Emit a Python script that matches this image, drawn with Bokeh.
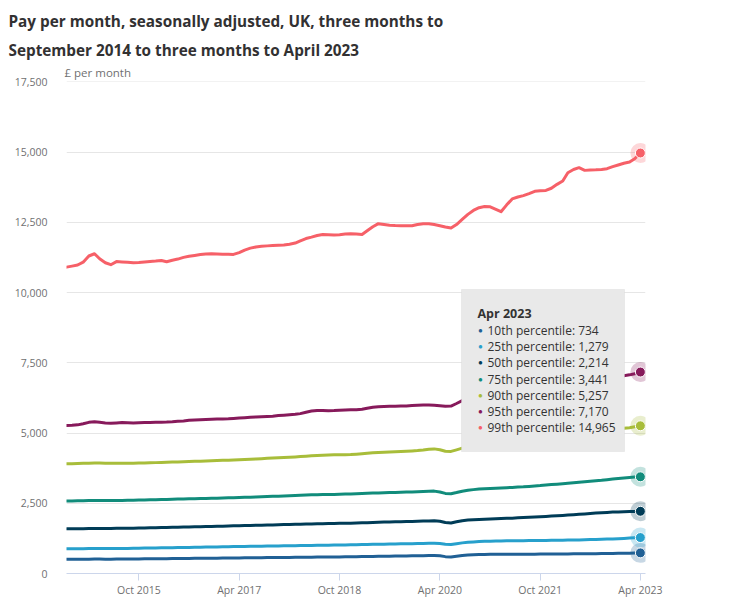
import pandas as pd
from bokeh.plotting import figure
from bokeh.models import (Range1d, FixedTicker, DatetimeTickFormatter, NumeralTickFormatter,
                          Label, BoxAnnotation, Title)
from bokeh.embed import file_html
from bokeh.resources import INLINE

# ---------------- data ----------------
start_month = "2014-09-01"
n_months = 104
months = pd.date_range(start_month, periods=n_months, freq="MS")

title_lines = ["Pay per month, seasonally adjusted, UK, three months to",
               "September 2014 to three months to April 2023"]
unit_label = "£ per month"

series_names = ["10th percentile", "25th percentile", "50th percentile", "75th percentile",
                "90th percentile", "95th percentile", "99th percentile"]
series_colors = ["#206095", "#27a0cc", "#003c57", "#118c7b", "#a8bd3a", "#871a5b", "#f66068"]

p10 = [505, 506, 507, 508, 510, 512, 512, 511, 511, 512, 513, 515, 517, 519, 521, 523, 525, 527, 529, 531,
       533, 535, 537, 539, 541, 543, 545, 547, 549, 551, 553, 555, 557, 559, 561, 563, 565, 567, 569, 571,
       573, 575, 577, 579, 581, 583, 585, 587, 589, 591, 593, 596, 599, 602, 605, 608, 611, 614, 617, 620,
       623, 626, 629, 632, 636, 640, 644, 632, 600, 590, 615, 640, 655, 665, 673, 679, 681, 683, 684, 685,
       686, 687, 688, 688, 689, 690, 691, 692, 693, 695, 697, 699, 701, 703, 705, 707, 709, 711, 714, 717,
       721, 725, 730, 734]
p25 = [880, 881, 882, 884, 886, 888, 888, 887, 886, 886, 887, 889, 895, 901, 904, 907, 910, 913, 916, 920,
       923, 926, 929, 933, 936, 939, 943, 946, 950, 953, 957, 961, 964, 967, 970, 973, 976, 979, 982, 985,
       988, 991, 994, 997, 1000, 1003, 1006, 1009, 1012, 1015, 1018, 1021, 1025, 1029, 1033, 1037, 1041, 1045, 1049, 1053,
       1056, 1059, 1062, 1066, 1070, 1074, 1077, 1065, 1040, 1031, 1060, 1090, 1110, 1125, 1138, 1148, 1152, 1156, 1159, 1162,
       1165, 1168, 1170, 1172, 1174, 1176, 1178, 1181, 1184, 1187, 1190, 1193, 1196, 1200, 1206, 1212, 1218, 1225, 1232, 1240,
       1250, 1260, 1270, 1279]
p50 = [1590, 1592, 1594, 1597, 1600, 1603, 1604, 1604, 1605, 1606, 1608, 1610, 1614, 1619, 1623, 1627, 1632, 1636, 1640, 1645,
       1649, 1654, 1658, 1663, 1667, 1672, 1676, 1681, 1685, 1690, 1695, 1700, 1705, 1710, 1715, 1720, 1725, 1730, 1735, 1740,
       1745, 1750, 1755, 1760, 1765, 1770, 1775, 1779, 1783, 1786, 1789, 1792, 1797, 1803, 1810, 1817, 1823, 1829, 1834, 1839,
       1844, 1849, 1854, 1859, 1865, 1871, 1876, 1860, 1815, 1795, 1840, 1880, 1900, 1912, 1922, 1930, 1938, 1946, 1954, 1962,
       1970, 1980, 1990, 2000, 2010, 2020, 2032, 2044, 2056, 2068, 2080, 2095, 2108, 2120, 2135, 2150, 2165, 2175, 2185, 2193,
       2200, 2205, 2210, 2214]
p75 = [2580, 2583, 2586, 2590, 2595, 2600, 2600, 2598, 2597, 2598, 2600, 2603, 2607, 2612, 2617, 2622, 2627, 2632, 2637, 2642,
       2647, 2652, 2657, 2662, 2667, 2672, 2677, 2682, 2687, 2692, 2697, 2703, 2710, 2717, 2724, 2731, 2738, 2745, 2752, 2760,
       2768, 2776, 2784, 2792, 2800, 2806, 2810, 2813, 2816, 2820, 2825, 2830, 2838, 2846, 2855, 2862, 2868, 2874, 2880, 2886,
       2892, 2898, 2904, 2912, 2920, 2928, 2932, 2900, 2850, 2837, 2880, 2930, 2960, 2985, 3005, 3015, 3025, 3035, 3045, 3055,
       3065, 3075, 3085, 3100, 3115, 3130, 3150, 3168, 3180, 3195, 3210, 3228, 3245, 3262, 3280, 3300, 3318, 3340, 3360, 3379,
       3400, 3420, 3432, 3441]
p90 = [3905, 3910, 3915, 3922, 3928, 3932, 3930, 3928, 3927, 3927, 3928, 3928, 3928, 3930, 3935, 3940, 3946, 3952, 3958, 3964,
       3970, 3977, 3984, 3991, 3998, 4005, 4012, 4020, 4027, 4034, 4041, 4048, 4058, 4068, 4078, 4088, 4098, 4108, 4118, 4128,
       4140, 4150, 4162, 4175, 4188, 4200, 4212, 4220, 4224, 4226, 4228, 4232, 4245, 4262, 4280, 4298, 4310, 4316, 4325, 4334,
       4343, 4352, 4362, 4375, 4395, 4420, 4435, 4405, 4350, 4345, 4400, 4460, 4510, 4560, 4600, 4620, 4640, 4655, 4670, 4685,
       4700, 4715, 4730, 4750, 4770, 4790, 4815, 4840, 4860, 4885, 4910, 4935, 4960, 4985, 5010, 5040, 5065, 5095, 5120, 5145,
       5170, 5190, 5220, 5257]
p95 = [5270, 5275, 5290, 5330, 5380, 5400, 5380, 5360, 5350, 5360, 5370, 5365, 5360, 5365, 5370, 5375, 5380, 5385, 5390, 5400,
       5415, 5430, 5450, 5465, 5475, 5485, 5490, 5495, 5500, 5505, 5515, 5530, 5545, 5560, 5570, 5580, 5590, 5600, 5620, 5635,
       5650, 5665, 5690, 5740, 5780, 5800, 5800, 5795, 5800, 5810, 5820, 5825, 5830, 5845, 5880, 5915, 5935, 5945, 5950, 5955,
       5960, 5965, 5975, 5985, 5995, 6000, 5990, 5970, 5950, 5960, 6050, 6150, 6250, 6320, 6370, 6390, 6380, 6340, 6320, 6400,
       6470, 6500, 6530, 6560, 6590, 6610, 6630, 6660, 6720, 6780, 6860, 6920, 6950, 6930, 6940, 6950, 6960, 6970, 6990, 7010,
       7040, 7070, 7110, 7170]
p99 = [10904, 10940, 10980, 11080, 11300, 11380, 11200, 11060, 10990, 11100, 11090, 11080, 11060, 11070, 11090, 11105, 11120, 11140, 11096, 11150,
       11190, 11250, 11290, 11320, 11350, 11370, 11380, 11370, 11360, 11360, 11356, 11420, 11510, 11580, 11620, 11645, 11660, 11670, 11680, 11690,
       11720, 11760, 11840, 11920, 11970, 12030, 12068, 12060, 12045, 12060, 12080, 12093, 12080, 12068, 12200, 12340, 12450, 12420, 12395, 12385,
       12380, 12378, 12375, 12420, 12450, 12450, 12420, 12378, 12330, 12293, 12420, 12600, 12780, 12920, 13019, 13060, 13050, 12960, 12877, 13120,
       13330, 13400, 13450, 13520, 13600, 13620, 13635, 13710, 13850, 13967, 14265, 14380, 14443, 14347, 14360, 14365, 14380, 14407, 14480, 14540,
       14600, 14643, 14762, 14965]

series_values = [p10, p25, p50, p75, p90, p95, p99]

x_tick_dates = ["2015-10-01", "2017-04-01", "2018-10-01", "2020-04-01", "2021-10-01", "2023-04-01"]
y_ticks = [0, 2500, 5000, 7500, 10000, 12500, 15000, 17500]

# ---------------- figure ----------------
FONT = "Open Sans"
TEXT = "#323132"
MUTED = "#707071"

p = figure(width=734, height=600, x_axis_type="datetime", title_location=None,
           output_backend="svg", toolbar_location=None,
           min_border_left=66, min_border_right=89, min_border_top=81, min_border_bottom=27,
           x_range=Range1d(months[0], months[-1] + pd.Timedelta(days=28)),
           y_range=Range1d(0, 17510))
p.outline_line_color = None
p.background_fill_color = "white"
p.border_fill_color = "white"

# titles (first added sits nearest the plot frame)
p.add_layout(Title(text=unit_label, text_font=FONT, text_font_size="11.5px",
                   text_font_style="normal", text_color=MUTED, align="left",
                   vertical_align="bottom", offset=-2, standoff=3), "above")
p.add_layout(Title(text=title_lines[1], text_font=FONT, text_font_size="15.3px",
                   text_font_style="bold", text_color=TEXT, align="left",
                   vertical_align="middle", offset=-58, standoff=2), "above")
p.add_layout(Title(text=title_lines[0], text_font=FONT, text_font_size="15.3px",
                   text_font_style="bold", text_color=TEXT, align="left",
                   vertical_align="middle", offset=-58, standoff=12), "above")

# axes
p.yaxis.ticker = FixedTicker(ticks=y_ticks)
p.yaxis.formatter = NumeralTickFormatter(format="0,0")
p.yaxis.axis_line_color = None
p.yaxis.major_tick_line_color = None
p.yaxis.minor_tick_line_color = None
p.yaxis.major_label_standoff = 13
p.yaxis.major_label_text_font = FONT
p.yaxis.major_label_text_font_size = "10.5px"
p.yaxis.major_label_text_color = MUTED

p.xaxis.ticker = FixedTicker(ticks=[pd.Timestamp(d).value // 10**6 for d in x_tick_dates])
fmt = "%b %Y"
p.xaxis.formatter = DatetimeTickFormatter(milliseconds=fmt, seconds=fmt, minsec=fmt, minutes=fmt,
                                          hourmin=fmt, hours=fmt, days=fmt, months=fmt, years=fmt)
p.xaxis.axis_line_color = "#ccd6eb"
p.xaxis.major_tick_line_color = "#ccd6eb"
p.xaxis.major_tick_out = 7
p.xaxis.major_tick_in = 0
p.xaxis.minor_tick_line_color = None
p.xaxis.major_label_standoff = 2
p.xaxis.major_label_text_font = FONT
p.xaxis.major_label_text_font_size = "10.5px"
p.xaxis.major_label_text_color = MUTED

p.xgrid.visible = False
p.ygrid.grid_line_color = "#e6e6e6"
p.ygrid.grid_line_width = 1

# lines
for vals, col in zip(series_values, series_colors):
    p.line(months, vals, line_width=3, line_color=col, line_join="round", line_cap="round")

# end markers (hover state)
last_x = [months[-1]] * len(series_values)
last_y = [v[-1] for v in series_values]
p.scatter(last_x, last_y, size=20, fill_color=series_colors, fill_alpha=0.25, line_color=None)
p.scatter(last_x, last_y, size=10, fill_color=series_colors, line_color="white", line_width=1)

# tooltip box
p.add_layout(BoxAnnotation(left=395, right=558, bottom=122, top=284,
                           left_units="screen", right_units="screen",
                           bottom_units="screen", top_units="screen",
                           fill_color="#e9e9e9", fill_alpha=1.0,
                           line_color="#d2d2d2", line_width=1, level="overlay"))
p.add_layout(Label(x=411, y=259.7, x_units="screen", y_units="screen",
                   text=months[-1].strftime("%b %Y"), text_font=FONT, text_font_size="12.5px",
                   text_font_style="bold", text_color="#333333", text_baseline="middle", level="overlay"))
for k, (name, col, vals) in enumerate(zip(series_names, series_colors, series_values)):
    yy = 243 - 16.2 * k
    p.add_layout(Label(x=414, y=yy, x_units="screen", y_units="screen", text="\u25CF",
                       text_font_size="8px", text_color=col, text_align="center",
                       text_baseline="middle", level="overlay"))
    p.add_layout(Label(x=421, y=yy, x_units="screen", y_units="screen",
                       text=f"{name}: {vals[-1]:,}", text_font=FONT, text_font_size="12px",
                       text_color="#333333", text_baseline="middle", level="overlay"))

open("out.html", "w").write(file_html(p, INLINE, title="Pay per month"))
